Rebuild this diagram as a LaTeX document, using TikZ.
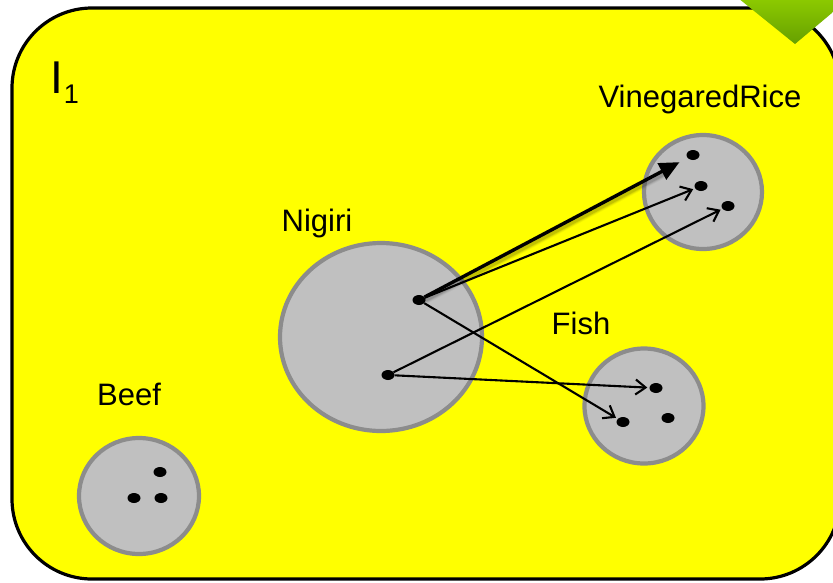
\documentclass[tikz,border=0pt]{standalone}
\usepackage{fontspec}
\setmainfont{Liberation Sans}
\usetikzlibrary{arrows.meta,calc,shapes.geometric}
\definecolor{boxyellow}{HTML}{FFFF00}
\definecolor{setfill}{HTML}{C0C0C0}
\definecolor{setline}{HTML}{8C8C8C}
\definecolor{greentop}{HTML}{8DCB00}
\definecolor{greenbot}{HTML}{66A000}
\tikzset{
  setcircle/.style={ellipse, draw=setline, fill=setfill, line width=4.2pt, inner sep=0pt},
  elem/.style={ellipse, fill=black, minimum width=13pt, minimum height=10pt, inner sep=0pt},
  setlabel/.style={anchor=base, font=\fontsize{31}{31}\selectfont, inner sep=0pt},
  maplink/.style={line width=2.1pt, -{Straight Barb[length=10pt,width=15pt,line width=2.1pt]}, shorten >=2pt},
  boldlink/.style={line width=3.4pt, -{Triangle[length=20pt,width=18pt]}, shorten >=9pt},
}
\begin{document}
\begin{tikzpicture}[x=1pt,y=-1pt]
\useasboundingbox (0,0) rectangle (833,582);
\clip (0,0) rectangle (833,582);
% interpretation frame
\draw[line width=3.2pt, fill=boxyellow, rounded corners=80pt] (12,8) rectangle (840,579);
% corner tab
\shade[top color=greentop, bottom color=greenbot] (738,-2) -- (795,44) -- (845,2) -- (845,-2) -- cycle;
% sets
\node[setcircle, minimum width=202pt, minimum height=188pt] (nigiri) at (381,337) {};
\node[setcircle, minimum width=118pt, minimum height=114pt] (rice) at (703,192) {};
\node[setcircle, minimum width=119pt, minimum height=115pt] (fish) at (644,406) {};
\node[setcircle, minimum width=120pt, minimum height=116pt] (beef) at (139,496) {};
% labels
\node[anchor=base west, inner sep=0pt, font=\fontsize{46}{46}\selectfont] (iname) at (50,93) {I\kern1pt\raisebox{-10pt}{\fontsize{27}{27}\selectfont 1}};
\node[setlabel] (lnigiri) at (317,231) {Nigiri};
\node[setlabel] (lrice) at (700,107) {VinegaredRice};
\node[setlabel] (lfish) at (581,334) {Fish};
\node[setlabel] (lbeef) at (129,405) {Beef};
% elements
\node[elem] (n1) at (419,300) {};
\node[elem] (n2) at (388,375) {};
\node[elem] (r1) at (693,155) {};
\node[elem] (r2) at (701,186) {};
\node[elem] (r3) at (728,206) {};
\node[elem] (f1) at (656,388) {};
\node[elem] (f2) at (623,422) {};
\node[elem] (f3) at (668,418) {};
\node[elem] (b1) at (160,472) {};
\node[elem] (b2) at (134,498) {};
\node[elem] (b3) at (161,498) {};
% soft shadow under the bold mapping
\foreach \o/\a in {1.5/0.10,3/0.07,4.5/0.05,6/0.03}{
  \draw[line width=3.4pt+\o pt, black, opacity=\a, line cap=round, transform canvas={shift={(1.5pt,-2pt)}}]
    (n1) -- ($(n1)!0.88!(r1)$);
}
% mappings
\draw[boldlink] (n1) -- (r1);
\draw[maplink] (n1) -- (r2);
\draw[maplink] (n2) -- (r3);
\draw[maplink] (n2) -- (f1);
\draw[maplink] (n1) -- (f2);
\end{tikzpicture}
\end{document}
